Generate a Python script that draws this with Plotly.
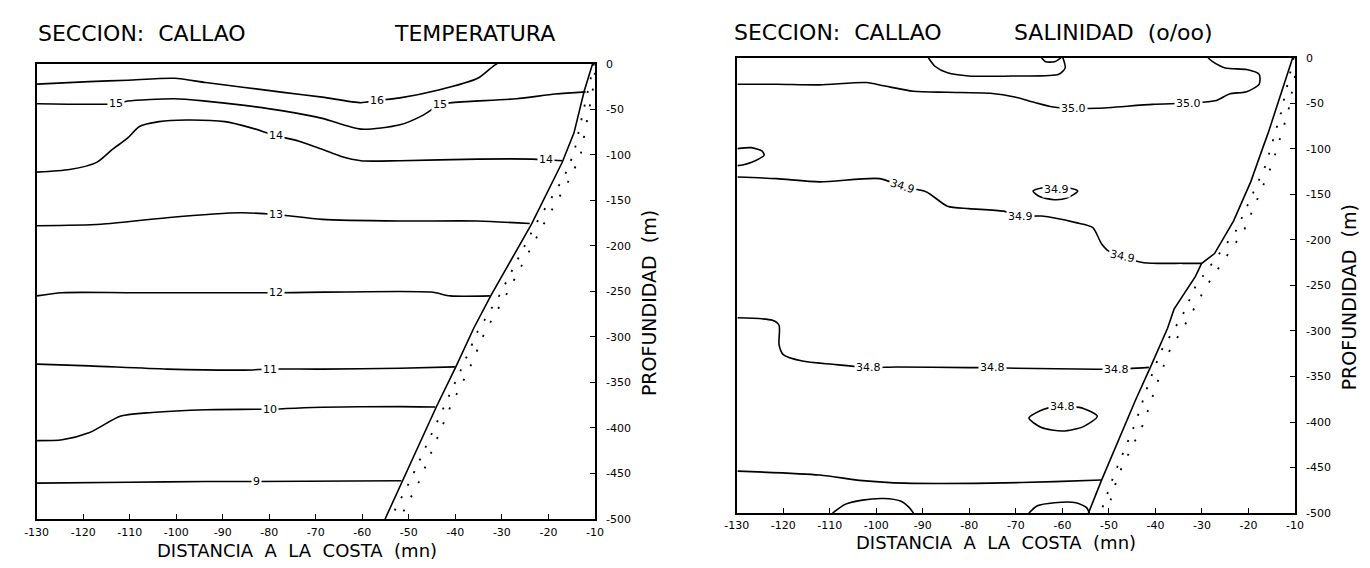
import plotly.graph_objects as go

# ---------------- axis ticks ----------------
x_ticks = [-130, -120, -110, -100, -90, -80, -70, -60, -50, -40, -30, -20, -10]
x_tick_labels = ["-130", "-120", "-110", "-100", "-90", "-80", "-70", "-60", "-50", "-40", "-30", "-20", "-10"]
y_ticks = [0, -50, -100, -150, -200, -250, -300, -350, -400, -450, -500]
y_tick_labels = ["0", "-50", "-100", "-150", "-200", "-250", "-300", "-350", "-400", "-450", "-500"]

# ---------------- TEMPERATURA panel (distance nm, depth m) ----------------
coast_t_x = [-10.5, -12.3, -14.5, -17.0, -23.6, -32.4, -36.0, -40.0, -44.1, -51.3, -55.1]
coast_t_d = [0, 30, 76, 108, 176, 255, 290, 334, 377, 457, 500]
dot1_t_x = [-10.2, -11.5, -14.5, -16.5, -22.7, -30.6, -35.2, -38.6, -42.5, -49.8, -54.0]
dot1_t_d = [0, 30, 98, 123, 176, 255, 294, 334, 377, 459, 500]
dot2_t_x = [-10.0, -10.5, -13.0, -15.0, -21.0, -29.2, -33.6, -36.9, -41.1, -47.8, -52.0]
dot2_t_d = [10, 30, 98, 123, 176, 255, 294, 334, 377, 459, 500]

t16_x = [-129.9, -118.7, -110.4, -100.4, -93.7, -85.3, -77.0, -68.6, -60.3, -56.9, -51.9, -43.6, -35.2, -31.9, -31.0]
t16_d = [22.5, 19.7, 18.2, 16.1, 20.7, 26.1, 31.5, 36.8, 42.9, 40.4, 37.6, 29.0, 16.1, 2.9, 0]
t15_x = [-129.9, -112.9, -110.4, -100.4, -93.7, -85.3, -77.0, -68.6, -60.3, -51.9, -46.9, -43.2, -39.4, -26.9, -18.5, -12.0]
t15_d = [44.0, 44.0, 41.1, 38.6, 41.1, 45.8, 51.9, 60.1, 71.9, 67.2, 56.5, 44.7, 42.2, 38.6, 33.3, 31.0]
t14_x = [-129.9, -122.9, -117.1, -113.7, -110.4, -107.9, -103.7, -97.9, -89.5, -83.7, -78.6, -73.6, -68.6, -64.5, -60.3, -51.9, -35.2, -23.5, -20.6, -17.0]
t14_d = [119.1, 116.3, 108.4, 94.1, 81.6, 69.0, 63.7, 61.9, 63.7, 70.8, 79.0, 85.1, 94.1, 102.0, 106.6, 106.6, 104.8, 104.8, 105.5, 106.6]
t13_x = [-129.9, -116.2, -102.0, -86.2, -78.6, -68.6, -51.9, -35.2, -24.0]
t13_d = [178.0, 176.4, 169.2, 163.8, 165.6, 171.0, 172.8, 172.8, 175.6]
t12_x = [-129.9, -124.5, -110.0, -78.6, -45.2, -41.1, -32.6]
t12_d = [255.0, 251.5, 251.5, 251.5, 250.8, 255.0, 255.0]
t11_x = [-129.9, -118.6, -101.9, -85.2, -79.9, -68.6, -51.9, -40.1]
t11_d = [330.0, 331.9, 335.4, 336.5, 335.4, 335.4, 334.4, 333.0]
t10_x = [-129.9, -124.5, -118.6, -111.9, -105.2, -93.5, -79.9, -68.6, -51.9, -44.3]
t10_d = [414.0, 413.0, 405.0, 387.0, 383.0, 380.0, 379.4, 377.3, 376.6, 377.0]
t9_x = [-129.9, -110.2, -93.5, -82.8, -51.6]
t9_d = [460.6, 459.6, 458.9, 458.9, 458.0]

t_lab_text = ["16", "15", "15", "14", "14", "13", "12", "11", "10", "9"]
t_lab_x = [-56.9, -112.9, -43.2, -78.6, -20.6, -78.6, -78.6, -79.9, -79.9, -82.8]
t_lab_d = [40.4, 44.0, 44.7, 79.0, 105.5, 165.6, 251.5, 335.4, 379.4, 458.9]
t_lab_angle = [0, 0, 0, 0, 0, 0, 0, 0, 0, 0]

# ---------------- SALINIDAD panel ----------------
coast_s_x = [-10.5, -13.0, -15.8, -16.8, -19.5, -23.2, -27.3, -30.1, -31.4, -36.0, -37.4, -41.1, -44.3, -51.6, -54.4]
coast_s_d = [0, 40, 83, 97, 136, 179, 215, 226, 240, 276, 297, 340, 376, 464, 500]
dot1_s_x = [-10.3, -13.0, -16.3, -22.7, -31.4, -34.2, -38.8, -41.5, -44.3, -48.9, -51.6]
dot1_s_d = [0, 60, 118, 190, 251, 283, 322, 358, 401, 458, 497]
dot2_s_x = [-10.0, -11.5, -15.0, -21.0, -29.1, -32.5, -37.0, -39.7, -42.5, -48.0, -50.3]
dot2_s_d = [20, 60, 118, 190, 251, 283, 322, 358, 401, 458, 497]

s350_x = [-129.8, -121.4, -112.2, -102.1, -98.4, -92.0, -84.7, -75.5, -70.0, -66.3, -62.0, -57.6, -52.5, -40.6, -32.8, -26.9, -24.1, -20.4, -17.7, -17.7, -20.4, -25.0, -27.8, -28.7]
s350_d = [29.0, 29.0, 29.7, 27.2, 30.8, 36.8, 37.9, 39.0, 43.3, 48.6, 54.0, 55.8, 55.4, 51.2, 49.7, 46.9, 39.7, 37.2, 29.0, 18.2, 12.9, 11.1, 3.9, 0]
s_top_x = [-88.8, -87.4, -84.7, -80.1, -70.9, -60.8, -59.4, -59.9]
s_top_d = [0, 9.3, 16.5, 20.0, 20.0, 18.2, 11.1, 0]
s_bump_x = [-64.5, -63.6, -61.7, -60.3]
s_bump_d = [0, 4.3, 4.3, 0]
s_lobe_x = [-129.8, -126.9, -124.6, -124.1, -126.0, -128.7, -129.8]
s_lobe_d = [99.8, 98.7, 102.3, 106.9, 113.0, 117.7, 118.4]
s349_x = [-129.8, -121.4, -112.2, -99.3, -94.3, -89.3, -84.7, -80.1, -72.7, -69.1, -64.5, -57.1, -53.5, -51.6, -50.3, -47.0, -42.5, -34.2, -30.1]
s349_d = [130.9, 132.7, 136.3, 132.7, 141.6, 147.0, 163.0, 165.6, 168.4, 173.8, 173.8, 181.0, 186.3, 204.2, 211.4, 218.5, 225.0, 225.7, 225.7]
s349b_x = [-66.3, -64.9, -61.7, -59.0, -56.7, -58.5, -61.3, -64.5, -66.3]
s349b_d = [146.3, 152.4, 155.9, 154.1, 146.3, 143.0, 142.0, 143.0, 146.3]
s348_x = [-129.8, -122.3, -120.9, -120.9, -120.0, -115.9, -109.4, -101.6, -95.7, -80.1, -75.0, -70.0, -52.5, -48.4, -41.4]
s348_d = [285.5, 288.3, 293.7, 315.1, 325.9, 333.0, 336.6, 340.2, 339.5, 340.2, 340.2, 340.9, 342.0, 342.0, 340.0]
s348b_x = [-67.2, -64.0, -59.9, -55.5, -52.5, -55.5, -59.9, -64.5, -67.2]
s348b_d = [395.6, 386.0, 382.4, 385.0, 393.8, 405.0, 409.9, 406.0, 395.6]
s347_x = [-129.8, -112.2, -103.0, -93.8, -75.5, -61.7, -51.6]
s347_d = [453.9, 458.2, 464.3, 467.1, 467.1, 465.4, 463.6]
s_b1_x = [-109.4, -106.7, -103.0, -98.4, -94.8, -92.9, -92.0]
s_b1_d = [500, 490.4, 485.7, 484.0, 486.8, 494.0, 500]
s_b2_x = [-67.2, -65.4, -61.7, -57.1, -54.8, -54.2]
s_b2_d = [500, 492.0, 488.6, 488.6, 494.0, 500]

s_lab_text = ["35.0", "35.0", "34.9", "34.9", "34.9", "34.9", "34.8", "34.8", "34.8", "34.8"]
s_lab_x = [-57.6, -32.8, -94.3, -69.1, -47.0, -61.3, -101.6, -75.0, -48.4, -59.9]
s_lab_d = [55.8, 49.7, 141.6, 173.8, 218.5, 144.5, 340.2, 340.2, 342.0, 382.4]
s_lab_angle = [0, 0, 18, 0, 12, 0, 0, 0, 0, 0]

# ---------------- figure ----------------
W, H = 1370, 568
FONT = "DejaVu Sans"
fig = go.Figure()


def add_line(xs, ds, ax, smooth=True, dash=None, width=1.6):
    fig.add_trace(go.Scatter(
        x=xs, y=[-d for d in ds], mode="lines",
        line=dict(color="black", width=width, dash=dash,
                  shape="spline" if smooth else "linear", smoothing=0.7),
        xaxis="x" if ax == 1 else "x2", yaxis="y" if ax == 1 else "y2",
        hoverinfo="skip", showlegend=False))


for xs, ds in [(t16_x, t16_d), (t15_x, t15_d), (t14_x, t14_d), (t13_x, t13_d),
               (t12_x, t12_d), (t11_x, t11_d), (t10_x, t10_d), (t9_x, t9_d)]:
    add_line(xs, ds, 1)
add_line(coast_t_x, coast_t_d, 1, smooth=False)
add_line(dot1_t_x, dot1_t_d, 1, smooth=False, dash="2px,12px", width=1.8)
add_line(dot2_t_x, dot2_t_d, 1, smooth=False, dash="2px,14px", width=1.8)

for xs, ds in [(s350_x, s350_d), (s_top_x, s_top_d), (s_bump_x, s_bump_d), (s_lobe_x, s_lobe_d),
               (s349_x, s349_d), (s349b_x, s349b_d), (s348_x, s348_d), (s348b_x, s348b_d),
               (s347_x, s347_d), (s_b1_x, s_b1_d), (s_b2_x, s_b2_d)]:
    add_line(xs, ds, 2)
add_line(coast_s_x, coast_s_d, 2, smooth=False)
add_line(dot1_s_x, dot1_s_d, 2, smooth=False, dash="2px,12px", width=1.8)
add_line(dot2_s_x, dot2_s_d, 2, smooth=False, dash="2px,14px", width=1.8)

annotations = []
for t, x, d, a in zip(t_lab_text, t_lab_x, t_lab_d, t_lab_angle):
    annotations.append(dict(text=t, x=x, y=-d, xref="x", yref="y", showarrow=False, textangle=a,
                            font=dict(family=FONT, size=11, color="black"),
                            bgcolor="white", borderpad=1))
for t, x, d, a in zip(s_lab_text, s_lab_x, s_lab_d, s_lab_angle):
    annotations.append(dict(text=t, x=x, y=-d, xref="x2", yref="y2", showarrow=False, textangle=a,
                            font=dict(family=FONT, size=11, color="black"),
                            bgcolor="white", borderpad=1))


def px_annot(text, px, py, size, xanchor="left", angle=0):
    annotations.append(dict(text=text, x=px / W, y=1 - py / H, xref="paper", yref="paper",
                            showarrow=False, xanchor=xanchor, yanchor="middle", textangle=angle,
                            font=dict(family=FONT, size=size, color="black")))


px_annot("SECCION:  CALLAO", 24, 28, 22)
px_annot("TEMPERATURA", 386, 28, 22)
px_annot("SECCION:  CALLAO", 731, 27, 22)
px_annot("SALINIDAD  (o/oo)", 1016, 27, 22)
px_annot("DISTANCIA  A  LA  COSTA  (mn)", 289, 557, 18, xanchor="center")
px_annot("DISTANCIA  A  LA  COSTA  (mn)", 999, 549, 18, xanchor="center")
px_annot("PROFUNDIDAD  (m)", 647, 304, 19, xanchor="center", angle=-90)
px_annot("PROFUNDIDAD  (m)", 1358, 298, 19, xanchor="center", angle=-90)

axis_common = dict(showgrid=False, zeroline=False, showline=True, linecolor="black", linewidth=1.6,
                   mirror=True, ticks="inside", ticklen=5, tickwidth=1.4, tickcolor="black",
                   tickfont=dict(family=FONT, size=11, color="black"))

x_common = dict(axis_common, range=[-130, -10], tickvals=x_ticks, ticktext=x_tick_labels)
y_common = dict(axis_common, range=[-500, 0], tickvals=y_ticks, ticktext=y_tick_labels, side="right",
                ticklabelstandoff=7)

fig.update_layout(
    width=W, height=H, margin=dict(l=0, r=0, t=0, b=0),
    paper_bgcolor="white", plot_bgcolor="white", showlegend=False,
    xaxis=dict(x_common, domain=[25 / W, 592 / W], anchor="y", ticklabelstandoff=2),
    yaxis=dict(y_common, domain=[1 - 525 / H, 1 - 59 / H], anchor="x"),
    xaxis2=dict(x_common, domain=[736 / W, 1303 / W], anchor="y2", ticklabelstandoff=1),
    yaxis2=dict(y_common, domain=[1 - 519 / H, 1 - 53 / H], anchor="x2"),
    annotations=annotations,
)

fig.write_html("out.html")
